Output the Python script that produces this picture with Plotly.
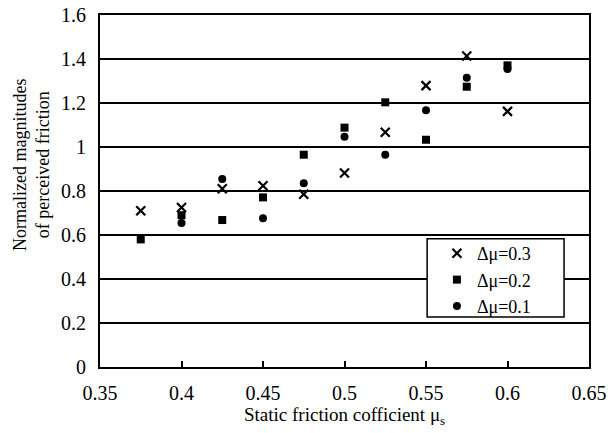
import plotly.graph_objects as go

x_vals = [0.375, 0.4, 0.425, 0.45, 0.475, 0.5, 0.525, 0.55, 0.575, 0.6]
d03 = [0.71, 0.725, 0.81, 0.824, 0.785, 0.882, 1.067, 1.279, 1.414, 1.162]
d02 = [0.58, 0.69, 0.668, 0.771, 0.965, 1.088, 1.203, 1.033, 1.274, 1.371]
d01 = [None, 0.655, 0.855, 0.676, 0.835, 1.047, 0.965, 1.167, 1.315, 1.355]
names = ["Δμ=0.3", "Δμ=0.2", "Δμ=0.1"]
x_ticks = [0.35, 0.4, 0.45, 0.5, 0.55, 0.6, 0.65]
x_tick_text = ["0.35", "0.4", "0.45", "0.5", "0.55", "0.6", "0.65"]
y_ticks = [0, 0.2, 0.4, 0.6, 0.8, 1.0, 1.2, 1.4, 1.6]
y_tick_text = ["0", "0.2", "0.4", "0.6", "0.8", "1", "1.2", "1.4", "1.6"]
x_title = "Static friction cofficient μ<sub>s</sub>"
y_title = "Normalized magnitudes<br>of perceived friction"

FONT = "Liberation Serif, Times New Roman, serif"

fig = go.Figure()
fig.add_trace(go.Scatter(x=x_vals, y=d03, mode="markers", name=names[0],
                         marker=dict(symbol="x-thin", size=9, color="black",
                                     line=dict(width=2.2, color="black"))))
fig.add_trace(go.Scatter(x=x_vals, y=d02, mode="markers", name=names[1],
                         marker=dict(symbol="square", size=8, color="black")))
fig.add_trace(go.Scatter(x=x_vals, y=d01, mode="markers", name=names[2],
                         marker=dict(symbol="circle", size=8, color="black")))

# legend frame box
fig.add_shape(type="rect", xref="paper", yref="paper",
              x0=0.669, x1=0.949, y0=0.142, y1=0.364,
              line=dict(color="black", width=1.5), fillcolor="white", layer="above")

# axis titles
fig.add_annotation(text=y_title, xref="paper", yref="paper", x=-0.139, y=0.574,
                   xanchor="center", yanchor="middle", textangle=-90, showarrow=False,
                   font=dict(family=FONT, size=18, color="black"))
fig.add_annotation(text=x_title, xref="paper", yref="paper", x=0.5, y=-0.14,
                   xanchor="center", yanchor="middle", showarrow=False,
                   font=dict(family=FONT, size=19, color="black"))

fig.update_layout(
    width=612, height=433,
    margin=dict(l=100, r=23, t=15, b=66, autoexpand=False),
    paper_bgcolor="white", plot_bgcolor="white",
    font=dict(family=FONT, size=20, color="black"),
    showlegend=True,
    legend=dict(x=0.689, y=0.375, xanchor="left", yanchor="top",
                borderwidth=0, bgcolor="rgba(0,0,0,0)",
                font=dict(family=FONT, size=18, color="black"),
                itemwidth=30, tracegroupgap=0),
    xaxis=dict(range=[0.35, 0.65], tickvals=x_ticks, ticktext=x_tick_text,
               showgrid=False, zeroline=False, showline=True, linecolor="black",
               linewidth=2, mirror=True, ticks="inside", ticklen=6, tickwidth=1.5,
               tickcolor="black", ticklabelstandoff=7, ticklabeloverflow="allow",
               automargin=False,
               tickfont=dict(family=FONT, size=20)),
    yaxis=dict(range=[0, 1.6], tickvals=y_ticks, ticktext=y_tick_text,
               showgrid=True, gridcolor="black", gridwidth=1.5,
               zeroline=False, showline=True, linecolor="black",
               linewidth=2, mirror=True, ticks="", ticklabelstandoff=8,
               ticklabeloverflow="allow", automargin=False,
               tickfont=dict(family=FONT, size=20)),
)

fig.write_html("out.html", config={"displayModeBar": False},
               post_script="document.body.style.margin='0';")
